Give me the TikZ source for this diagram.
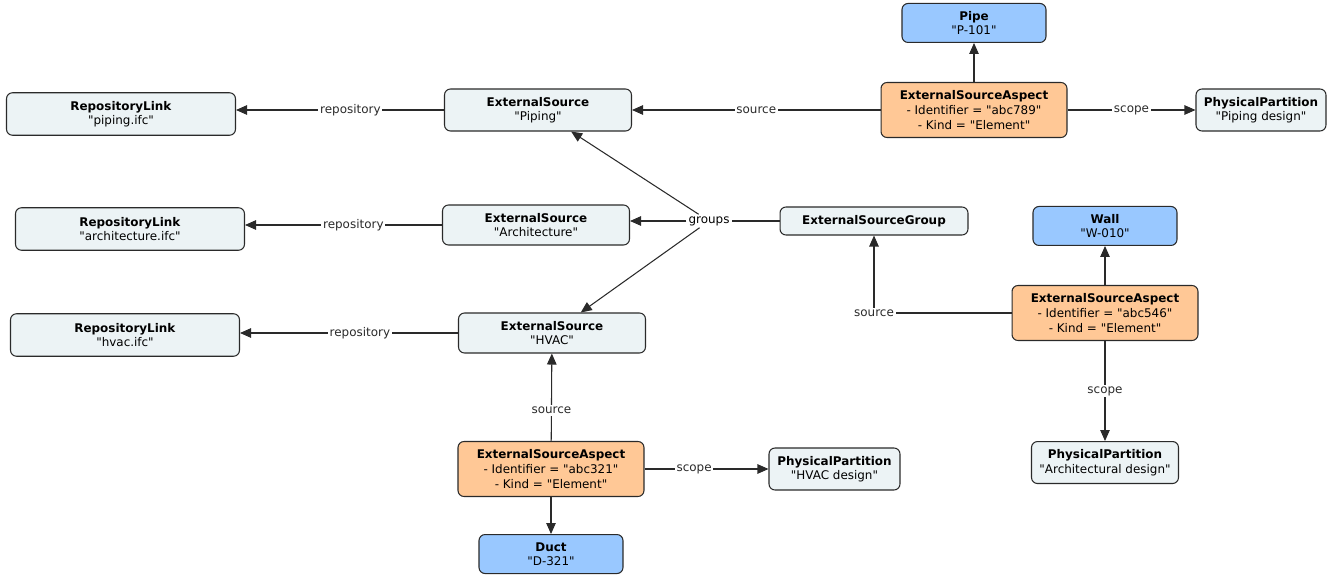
\documentclass[tikz,border=0pt]{standalone}
\usepackage{fontspec}
\setmainfont{DejaVu Sans}
\usepackage{xcolor}
\definecolor{lineDark}{HTML}{2A2A2A}
\definecolor{boxBg}{HTML}{ECF3F5}
\definecolor{aspectBg}{HTML}{FFC896}
\definecolor{elementBg}{HTML}{99C8FF}
\usetikzlibrary{positioning,calc,arrows.meta}
\newcommand{\qt}[1]{\textquotedbl #1\textquotedbl}
\tikzset{%
  baseBox/.style={%
    rectangle,
    rounded corners=0.12cm,
    draw=lineDark,
    line width=0.6pt,
    inner sep=1pt,
    align=center,
    font=\fontsize{6.8pt}{8.3pt}\selectfont
  },
  sourceBox/.style={%
    baseBox,
    fill=boxBg,
    minimum width=3.74cm,
    minimum height=0.8cm
  },
  linkBox/.style={%
    baseBox,
    fill=boxBg,
    minimum width=4.58cm,
    minimum height=0.85cm
  },
  partBox/.style={%
    baseBox,
    fill=boxBg,
    minimum height=0.84cm
  },
  aspectBox/.style={%
    baseBox,
    fill=aspectBg,
    minimum width=3.72cm,
    minimum height=1.1cm
  },
  elementBox/.style={%
    baseBox,
    fill=elementBg,
    minimum width=2.88cm,
    minimum height=0.78cm
  },
  arrowLine/.style={%
    -{Triangle[length=2.2mm,width=1.9mm]},
    line width=0.6pt,
    color=lineDark
  },
  edgeLabel/.style={%
    fill=white,
    inner sep=1pt,
    font=\fontsize{6.8pt}{8.3pt}\selectfont
  }
}
\begin{document}
\begin{tikzpicture}[x=0.02cm,y=-0.02cm]
  \useasboundingbox (0,0) rectangle (1329,581);

  % piping
  \node[aspectBox] (esaPiping) at (974,110) {\textbf{ExternalSourceAspect}\\- Identifier = \qt{abc789}\\- Kind = \qt{Element}};
  \node[elementBox, above=0.78cm of esaPiping] (pipe) {\textbf{Pipe}\\\qt{P-101}};
  \node[partBox, minimum width=2.6cm, right=2.56cm of esaPiping] (ppPiping) {\textbf{PhysicalPartition}\\\qt{Piping design}};
  \node[sourceBox, minimum height=0.84cm] (esPiping) at (538,110) {\textbf{ExternalSource}\\\qt{Piping}};
  \node[linkBox] (rlPiping) at (121,114) {\textbf{RepositoryLink}\\\qt{piping.ifc}};

  % architecture
  \node[sourceBox] (esArch) at (536,225) {\textbf{ExternalSource}\\\qt{Architecture}};
  \node[linkBox] (rlArch) at (130,229) {\textbf{RepositoryLink}\\\qt{architecture.ifc}};
  \node[sourceBox, minimum width=3.76cm, minimum height=0.56cm] (esGroup) at (874,221) {\textbf{ExternalSourceGroup}};
  \node[aspectBox] (esaArch) at (1105,313) {\textbf{ExternalSourceAspect}\\- Identifier = \qt{abc546}\\- Kind = \qt{Element}};
  \node[elementBox, above=0.78cm of esaArch] (wall) {\textbf{Wall}\\\qt{W-010}};
  \node[partBox, minimum width=2.94cm, below=2cm of esaArch] (ppArch) {\textbf{PhysicalPartition}\\\qt{Architectural design}};

  % hvac
  \node[sourceBox] (esHvac) at (552,333) {\textbf{ExternalSource}\\\qt{HVAC}};
  \node[linkBox] (rlHvac) at (125,335) {\textbf{RepositoryLink}\\\qt{hvac.ifc}};
  \node[aspectBox] (esaHvac) at (551,469) {\textbf{ExternalSourceAspect}\\- Identifier = \qt{abc321}\\- Kind = \qt{Element}};
  \node[partBox, minimum width=2.62cm, right=2.48cm of esaHvac] (ppHvac) {\textbf{PhysicalPartition}\\\qt{HVAC design}};
  \node[elementBox, below=0.74cm of esaHvac] (duct) {\textbf{Duct}\\\qt{D-321}};

  \node[edgeLabel] (grp) at (709,221) {groups};

  \draw[arrowLine] (esaPiping) -- (pipe);
  \draw[arrowLine] (esaPiping) -- node[edgeLabel]{source} (esPiping);
  \draw[arrowLine] (esaPiping) -- node[edgeLabel]{scope} (ppPiping);
  \draw[arrowLine] (esPiping.west) -- node[edgeLabel, pos=0.45]{repository} (esPiping.west -| rlPiping.east);
  \draw[arrowLine] (esArch.west) -- node[edgeLabel, pos=0.45]{repository} (esArch.west -| rlArch.east);
  \draw[arrowLine] (esHvac.west) -- node[edgeLabel, pos=0.45]{repository} (esHvac.west -| rlHvac.east);

  \draw[line width=0.6pt, lineDark] (esGroup) -- (grp);
  \draw[arrowLine] (grp) -- (esPiping);
  \draw[arrowLine] (grp) -- (grp -| esArch.east);
  \draw[arrowLine] (grp) -- (esHvac);

  \draw[arrowLine] (esaArch) -| node[edgeLabel]{source} (esGroup);
  \draw[arrowLine] (esaArch) -- (wall);
  \draw[arrowLine] (esaArch) -- node[edgeLabel]{scope} (ppArch);

  \draw[arrowLine] (esaHvac) -- node[edgeLabel, pos=0.35]{source} (esHvac);
  \draw[arrowLine] (esaHvac) -- node[edgeLabel, pos=0.4]{scope} (ppHvac);
  \draw[arrowLine] (esaHvac) -- (duct);
\end{tikzpicture}
\end{document}
